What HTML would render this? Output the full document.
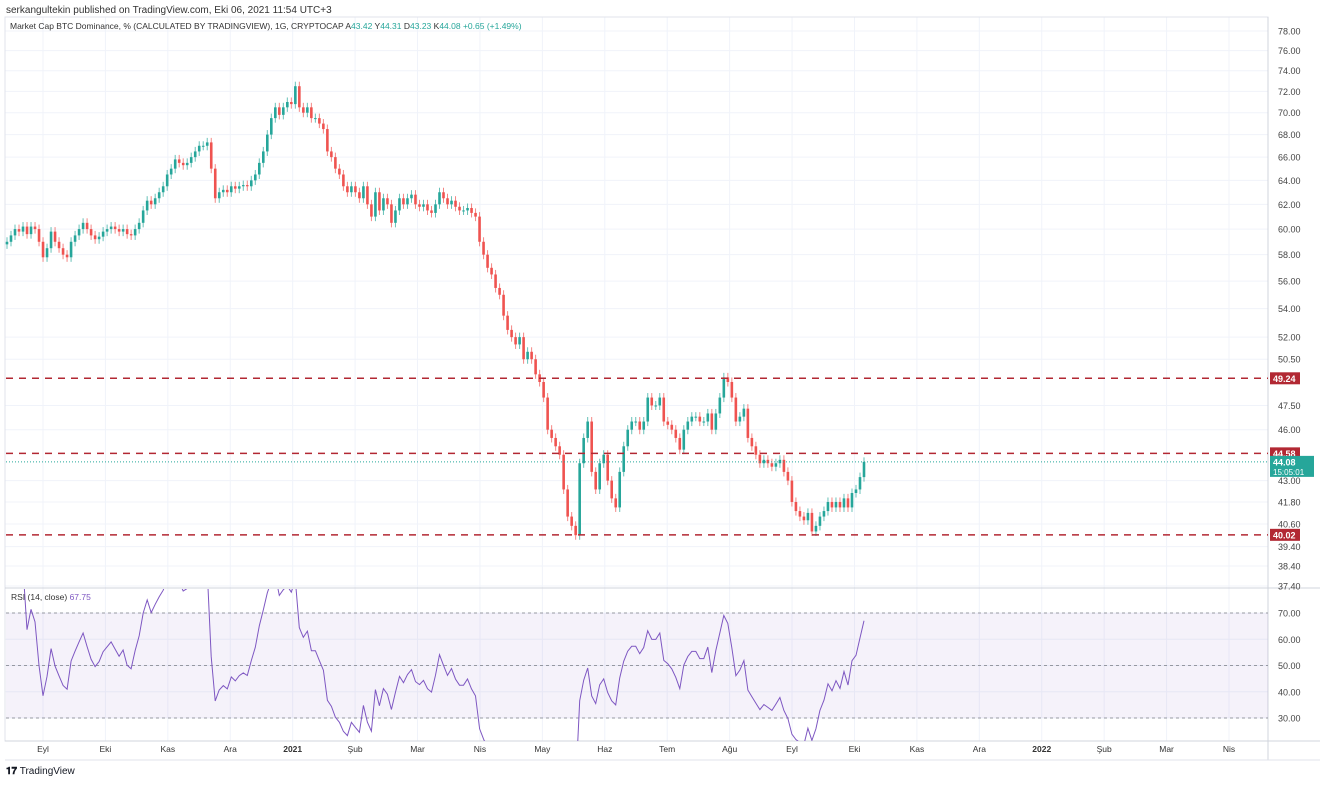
<!DOCTYPE html>
<html><head><meta charset="utf-8">
<style>
html,body{margin:0;padding:0;background:#fff;}
body{width:1320px;height:781px;overflow:hidden;font-family:"Liberation Sans",sans-serif;}
svg text{font-family:"Liberation Sans",sans-serif;}
</style></head>
<body>
<svg id="chart" width="1320" height="781" viewBox="0 0 1320 781" xmlns="http://www.w3.org/2000/svg">
<text x="6" y="13" font-size="10" fill="#333">serkangultekin published on TradingView.com, Eki 06, 2021 11:54 UTC+3</text>
<g id="grid"></g>
<rect x="5" y="17" width="1263" height="724" fill="none" stroke="#e0e3eb"/>
<line x1="5" y1="588" x2="1320" y2="588" stroke="#d1d4dc"/>
<line x1="1268" y1="17" x2="1268" y2="760" stroke="#d1d4dc"/>
<line x1="5" y1="741" x2="1320" y2="741" stroke="#d1d4dc"/>
<line x1="5" y1="760" x2="1320" y2="760" stroke="#e0e3eb"/>
<rect x="6" y="613" width="1262" height="105" fill="#7e57c2" fill-opacity="0.08"/>
<g id="rsiLevels"></g>
<g id="candles"></g>
<g id="levels"></g>
<g id="rsi"></g>
<g id="yaxis"></g>
<g id="xaxis"></g>
<text x="10" y="29" font-size="8.5" fill="#333">Market Cap BTC Dominance, % (CALCULATED BY TRADINGVIEW), 1G, CRYPTOCAP <tspan>A</tspan><tspan fill="#26a69a">43.42</tspan> Y<tspan fill="#26a69a">44.31</tspan> D<tspan fill="#26a69a">43.23</tspan> K<tspan fill="#26a69a">44.08 +0.65 (+1.49%)</tspan></text>
<text x="11" y="600" font-size="8.5" fill="#333">RSI (14, close) <tspan fill="#7e57c2">67.75</tspan></text>
<text x="6" y="774" font-size="10" fill="#131722"><tspan font-weight="bold">𝟏𝟕</tspan> TradingView</text>
</svg>
<script>
const closes=[59.0,59.5,60.0,59.8,60.2,59.6,60.2,60.0,59.0,57.8,58.5,59.8,59.0,58.5,58.0,57.8,59.0,59.5,60.0,60.5,60.0,59.5,59.2,59.4,59.8,60.0,60.2,60.0,59.8,60.0,59.6,59.5,60.0,60.5,61.5,62.3,62.0,62.5,63.0,63.5,64.5,65.0,65.8,65.5,65.3,65.5,66.0,66.5,67.0,67.0,67.3,65.0,62.5,63.0,63.2,63.0,63.5,63.3,63.5,63.6,63.5,64.0,64.5,65.5,66.5,68.0,69.5,70.5,69.8,70.5,71.0,70.8,72.5,70.5,70.0,70.5,69.5,69.5,69.0,68.5,66.5,66.0,65.0,64.5,63.5,63.0,63.5,63.0,62.5,63.5,62.0,61.0,63.0,61.5,62.5,62.0,60.5,61.5,62.5,62.0,62.5,62.8,62.0,61.8,62.0,61.5,61.3,62.0,63.0,62.5,62.0,62.3,61.8,61.5,61.5,61.7,61.3,61.0,59.0,58.0,57.0,56.5,55.5,55.0,53.5,52.5,52.0,51.5,52.0,50.5,51.0,50.5,49.5,49.0,48.0,46.0,45.5,45.0,44.5,42.5,41.0,40.5,40.0,44.0,45.5,46.5,43.5,42.5,44.0,44.5,43.0,42.0,41.5,43.5,45.0,46.0,46.5,46.5,46.0,46.5,48.0,47.5,47.5,48.0,46.5,46.3,46.0,45.5,44.8,46.0,46.5,46.8,46.8,46.5,46.5,47.0,46.0,47.0,48.0,49.3,49.0,48.0,46.5,46.8,47.3,45.5,45.0,44.5,44.0,44.2,44.0,43.8,44.0,44.2,43.5,43.0,41.8,41.3,41.0,40.8,41.2,40.2,40.5,41.0,41.3,41.8,41.5,41.8,41.5,42.0,41.5,42.3,42.5,43.2,44.08];
const firstOpen=58.8;
const priceTicks=[78,76,74,72,70,68,66,64,62,60,58,56,54,52,50.5,47.5,46,43,41.8,40.6,39.4,38.4,37.4];
const levelValues=[49.24,44.58,40.02];
const lastPrice=44.08;
const rsiTicks=[70,60,50,40,30];
const months=["Eyl","Eki","Kas","Ara","2021","Şub","Mar","Nis","May","Haz","Tem","Ağu","Eyl","Eki","Kas","Ara","2022","Şub","Mar","Nis"];
const monthIndex=[0,1,2,3,4,5,6,7,8,9,10,11,12,13,14,15,16,17,18,19];

const NS="http://www.w3.org/2000/svg";
function mk(tag,attrs,parent){const e=document.createElementNS(NS,tag);for(const k in attrs)e.setAttribute(k,attrs[k]);parent.appendChild(e);return e;}
const L78=Math.log(78),PXL=755;
function yP(p){return 31+(L78-Math.log(p))*PXL;}
const X0=7,X1=864;
function xI(i){return X0+i*(X1-X0)/(closes.length-1);}
function xM(m){return 43+m*(1229-43)/19;}
function yR(v){return 718-(v-30)*2.625;}

const grid=document.getElementById('grid');
const yaxis=document.getElementById('yaxis');
priceTicks.forEach(t=>{
  const y=yP(t);
  const gl=mk('line',{x1:5,x2:1268,y1:y,y2:y,stroke:'#f0f3fa'},grid);
  
  
  const tx=mk('text',{x:1278,y:y+3.5,'font-size':'9',fill:'#444'},yaxis);
  tx.textContent=t.toFixed(2);
  
  
});
rsiTicks.forEach(t=>{
  const y=yR(t);
  const gl=mk('line',{x1:5,x2:1268,y1:y,y2:y,stroke:'#f0f3fa'},grid);
  
  
  const tx=mk('text',{x:1278,y:y+3.5,'font-size':'9',fill:'#444'},yaxis);
  tx.textContent=t.toFixed(2);
  
  
});
const xaxis=document.getElementById('xaxis');
months.forEach((m,k)=>{
  const x=xM(monthIndex[k]);
  const gl=mk('line',{x1:x,x2:x,y1:17,y2:741,stroke:'#f0f3fa'},grid);
  
  
  const tx=mk('text',{x:x,y:752,'font-size':'8.5',fill:'#333','text-anchor':'middle','font-weight':/^\d/.test(m)?'bold':'normal'},xaxis);
  tx.textContent=m;
  
  
});
const rl=document.getElementById('rsiLevels');
[70,50,30].forEach(v=>{
  const l=mk('line',{x1:6,x2:1268,y1:yR(v),y2:yR(v),stroke:'#9598a1','stroke-dasharray':'3 3'},rl);
  
  
});

const cg=document.getElementById('candles');
closes.forEach((c,i)=>{
  const o=i===0?firstOpen:closes[i-1];
  const up=c>=o;
  const col=up?'#26a69a':'#ef5350';
  const hi=Math.max(o,c)*1.006,lo=Math.min(o,c)*0.994;
  const x=xI(i);
  const w=mk('line',{x1:x,x2:x,y1:yP(hi),y2:yP(lo),stroke:col,'stroke-width':1,'stroke-opacity':0.7},cg);
  
  
  const yt=yP(Math.max(o,c)),yb=yP(Math.min(o,c));
  const b=mk('rect',{x:x-1.3,y:yt,width:2.6,height:Math.max(1,yb-yt),fill:col},cg);
  
  
});

const lg=document.getElementById('levels');
levelValues.forEach(v=>{
  const y=yP(v);
  const l=mk('line',{x1:6,x2:1268,y1:y,y2:y,stroke:'#b22833','stroke-width':1.5,'stroke-dasharray':'7 6'},lg);
  
  
  const r=mk('rect',{x:1270,y:y-6,width:30,height:12,fill:'#b22833'},lg);
  
  
  const t=mk('text',{x:1273,y:y+3.5,'font-size':'9','font-weight':'bold',fill:'#fff'},lg);
  t.textContent=v.toFixed(2);
  
  
});
const yl=yP(lastPrice);
const pl=mk('line',{x1:6,x2:1268,y1:yl,y2:yl,stroke:'#26a69a','stroke-dasharray':'1 2'},lg);


const pb=mk('rect',{x:1270,y:yl-6,width:44,height:21,fill:'#26a69a'},lg);


const pt=mk('text',{x:1273,y:yl+3.5,'font-size':'9','font-weight':'bold',fill:'#fff'},lg);
pt.textContent=lastPrice.toFixed(2);


const ct=mk('text',{x:1273,y:yl+13,'font-size':'8',fill:'#fff'},lg);
ct.textContent='15:05:01';



// RSI computed from closes (smoothing period tuned for 2-day bars)
const P=10;const rsiVals=[];
let ag=0,al=0;
for(let i=1;i<closes.length;i++){
  const d=closes[i]-closes[i-1];const g=Math.max(d,0),l=Math.max(-d,0);
  if(i<=P){ag+=g/P;al+=l/P;}else{ag=(ag*(P-1)+g)/P;al=(al*(P-1)+l)/P;}
  rsiVals.push([i, al===0?100:100-100/(1+ag/al)]);
}
const rs=document.getElementById('rsi');
const cp=mk('clipPath',{id:'rclip'},rs);
mk('rect',{x:5,y:589,width:1263,height:152},cp);
const d=rsiVals.map((p,k)=>(k?'L':'M')+xI(p[0]).toFixed(1)+' '+yR(p[1]).toFixed(1)).join(' ');
const rp=mk('path',{d:d,fill:'none',stroke:'#7e57c2','stroke-width':1,'clip-path':'url(#rclip)'},rs);


</script>
</body></html>
